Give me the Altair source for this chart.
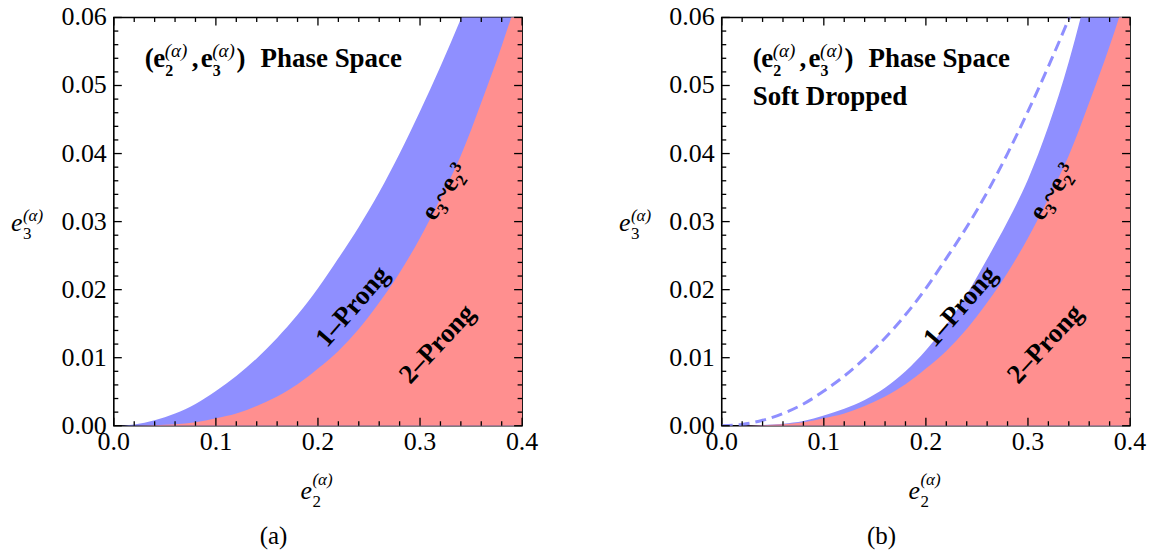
import altair as alt
import pandas as pd

# ---------------- data ----------------
e2 = [0.00, 0.02, 0.04, 0.06, 0.08, 0.10, 0.12, 0.14, 0.16, 0.18, 0.20,
      0.22, 0.24, 0.26, 0.28, 0.30, 0.32, 0.34, 0.36, 0.38, 0.40]
# upper edge of the 1-prong band (panel a) and dashed line (panel b)
one_prong_upper = [0.0, 0.0002, 0.0008, 0.0018, 0.0032, 0.0051, 0.0073, 0.0099,
                   0.0129, 0.0163, 0.0202, 0.0246, 0.0292, 0.0343, 0.0400, 0.0462,
                   0.0528, 0.0598, 0.0672, 0.0750, 0.0830]
# boundary between 1-prong and 2-prong regions (e3 ~ e2^3)
two_prong_upper = [0.0, 0.00001, 0.00007, 0.00022, 0.00052, 0.0011, 0.0018, 0.0029,
                   0.0043, 0.0061, 0.0084, 0.0110, 0.0142, 0.0181, 0.0225, 0.0276,
                   0.0334, 0.0397, 0.0475, 0.0558, 0.0650]
# upper edge of the soft-dropped 1-prong band (panel b)
soft_drop_upper = [0.0, 0.00001, 0.0001, 0.0003, 0.0007, 0.0015, 0.0025, 0.0038,
                   0.0056, 0.0080, 0.0111, 0.0148, 0.0193, 0.0245, 0.0300, 0.0362,
                   0.0440, 0.0535, 0.0650, 0.0780, 0.0920]

x_major = [0.0, 0.1, 0.2, 0.3, 0.4]
x_labels = ["0.0", "0.1", "0.2", "0.3", "0.4"]
x_minor = [0.02, 0.04, 0.06, 0.08, 0.12, 0.14, 0.16, 0.18, 0.22, 0.24, 0.26,
           0.28, 0.32, 0.34, 0.36, 0.38]
y_major = [0.00, 0.01, 0.02, 0.03, 0.04, 0.05, 0.06]
y_labels = ["0.00", "0.01", "0.02", "0.03", "0.04", "0.05", "0.06"]
y_minor = [0.002, 0.004, 0.006, 0.008, 0.012, 0.014, 0.016, 0.018, 0.022, 0.024,
           0.026, 0.028, 0.032, 0.034, 0.036, 0.038, 0.042, 0.044, 0.046, 0.048,
           0.052, 0.054, 0.056, 0.058]

region_labels = ["1–Prong", "2–Prong", "e₃~e₂³"]
label_e2 = [0.234, 0.317, 0.324]
label_e3 = [0.0175, 0.0120, 0.0344]

# ---------------- styling ----------------
W = 409
H = 409
BLUE = "#8F8FFF"
RED = "#FF8F8F"
SERIF = "Liberation Serif"
TICK_FS = 26

xs = alt.Scale(domain=[0, 0.4], nice=False, zero=False)
ys = alt.Scale(domain=[0, 0.06], nice=False, zero=False)


def X(f):
    return alt.X(f, scale=xs, axis=None)


def Y(f):
    return alt.Y(f, scale=ys, axis=None)


def ticks(vals, axis, side, length):
    base = alt.Chart(pd.DataFrame({"v": vals})).mark_rule(color="black", strokeWidth=1.3)
    if axis == "x":
        enc = dict(x=X("v:Q"))
        if side == "bottom":
            enc.update(y=alt.value(H), y2=alt.value(H - length))
        else:
            enc.update(y=alt.value(0), y2=alt.value(length))
    else:
        enc = dict(y=Y("v:Q"))
        if side == "left":
            enc.update(x=alt.value(0), x2=alt.value(length))
        else:
            enc.update(x=alt.value(W), x2=alt.value(W - length))
    return base.encode(**enc)


def tick_labels():
    xl = alt.Chart(pd.DataFrame({"v": x_major, "t": x_labels})).mark_text(
        font=SERIF, fontSize=TICK_FS, color="black", align="center", baseline="top"
    ).encode(x=X("v:Q"), y=alt.value(H + 3), text="t:N")
    yl = alt.Chart(pd.DataFrame({"v": y_major, "t": y_labels})).mark_text(
        font=SERIF, fontSize=TICK_FS, color="black", align="right", baseline="middle"
    ).encode(y=Y("v:Q"), x=alt.value(-7), text="t:N")
    return [xl, yl]


def txt(s, x, y, size, weight="normal", style="normal", align="left"):
    return alt.Chart(pd.DataFrame({"t": [s]})).mark_text(
        font=SERIF, fontSize=size, fontWeight=weight, fontStyle=style,
        align=align, baseline="alphabetic", color="black", x=x, y=y
    ).encode(text="t:N")


def panel(band_upper, dashed, title2, caption):
    df = pd.DataFrame({"e2": e2, "upper": band_upper, "lower": two_prong_upper,
                       "dash": one_prong_upper})
    blue = alt.Chart(df).mark_area(color=BLUE, clip=True, interpolate="monotone").encode(
        x=X("e2:Q"), y=Y("upper:Q"), y2=alt.datum(0),
    )
    red = alt.Chart(df).mark_area(color=RED, clip=True, interpolate="monotone").encode(
        x=X("e2:Q"), y=Y("lower:Q"), y2=alt.datum(0),
    )
    layers = [blue, red]
    if dashed:
        layers.append(
            alt.Chart(df).mark_line(color=BLUE, strokeWidth=3, strokeDash=[11, 6],
                                    clip=True, interpolate="monotone").encode(
                x=X("e2:Q"), y=Y("dash:Q"),
            )
        )
    lab = pd.DataFrame({"e2": label_e2, "e3": label_e3, "t": region_labels,
                        "ang": [311, 313, 303]})
    layers.append(
        alt.Chart(lab).mark_text(font=SERIF, fontSize=27, fontWeight="bold",
                                 color="black", align="center", baseline="middle").encode(
            x=X("e2:Q"), y=Y("e3:Q"), text="t:N",
            angle=alt.Angle("ang:Q", scale=None),
        )
    )
    layers += [
        ticks(x_major, "x", "bottom", 8), ticks(x_minor, "x", "bottom", 4.5),
        ticks(x_major, "x", "top", 8), ticks(x_minor, "x", "top", 4.5),
        ticks(y_major, "y", "left", 8), ticks(y_minor, "y", "left", 4.5),
        ticks(y_major, "y", "right", 8), ticks(y_minor, "y", "right", 4.5),
    ]
    layers += tick_labels()
    # in-plot title: (e2^(a), e3^(a)) Phase Space
    tb = 50
    layers += [
        txt("(", 31, tb, 27, "bold"),
        txt("e", 39.5, tb, 27, "bold"),
        txt("2", 51.5, tb + 9, 16, "bold"),
        txt("(α)", 51, tb - 10, 19, style="italic"),
        txt(",", 78, tb, 27, "bold"),
        txt("e", 87, tb, 27, "bold"),
        txt("3", 99, tb + 9, 16, "bold"),
        txt("(α)", 98.5, tb - 10, 19, style="italic"),
        txt(")", 123, tb, 27, "bold"),
        txt("Phase Space", 147, tb, 27, "bold"),
    ]
    if title2:
        layers.append(txt(title2, 31, tb + 38, 27, "bold"))
    # axis titles
    layers += [
        txt("e", -103, 214, 26, style="italic"),
        txt("3", -91, 222, 17),
        txt("(α)", -91, 204, 17, style="italic"),
        txt("e", 187, 482, 26, style="italic"),
        txt("2", 199, 490, 17),
        txt("(α)", 199, 468, 17, style="italic"),
        txt(caption, 160, 527, 25, align="center"),
    ]
    return alt.layer(*layers).properties(width=W, height=H)


left = panel(one_prong_upper, False, None, "(a)")
right = panel(soft_drop_upper, True, "Soft Dropped", "(b)")

chart = alt.hconcat(left, right, spacing=200, bounds="flush").properties(
    padding={"left": 2, "top": -5, "right": 0, "bottom": 0}
).configure(font=SERIF).configure_view(stroke="black", strokeWidth=1.6).configure_concat(
    spacing=200
)

chart.save("out.html", embed_options={"renderer": "svg", "actions": False})
